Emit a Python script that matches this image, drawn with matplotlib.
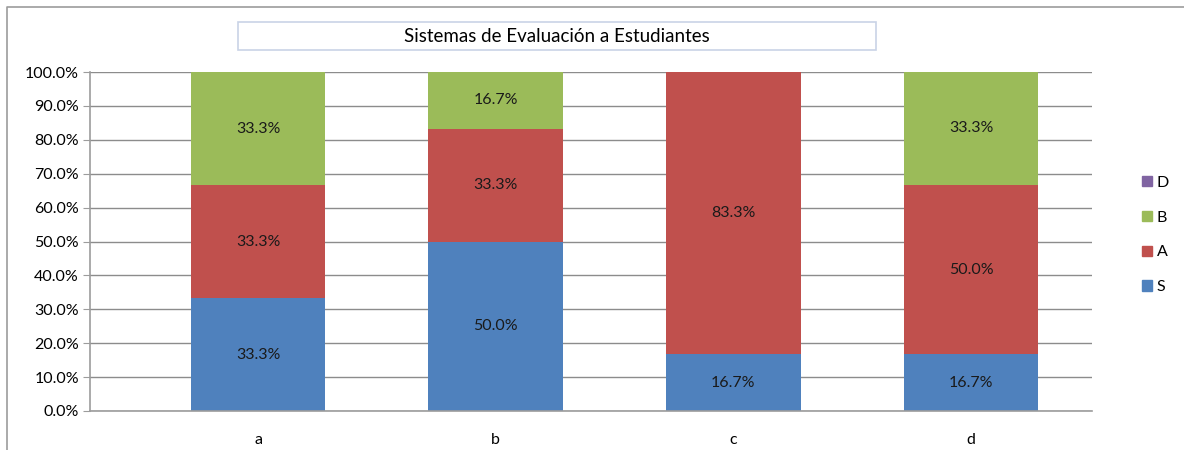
import matplotlib
matplotlib.use("Agg")
import matplotlib.pyplot as plt
from matplotlib.patches import Rectangle, Patch
from matplotlib.lines import Line2D
import numpy as np

plt.rcParams['font.family'] = ['Lato', 'DejaVu Sans']

categories = ["a", "b", "c", "d"]
S = [33.3, 50.0, 16.7, 16.7]
A = [33.3, 33.3, 83.3, 50.0]
B = [33.3, 16.7, 0.0, 33.3]
D = [0.0, 0.0, 0.0, 0.0]

series = [("S", S, "#4F81BD"), ("A", A, "#C0504D"),
          ("B", B, "#9BBB59"), ("D", D, "#8064A2")]

W, H = 1184, 450
fig = plt.figure(figsize=(W / 100, H / 100), dpi=100)
ax = fig.add_axes([90 / W, 1 - 411 / H, (1092 - 90) / W, (411 - 72) / H])

x = np.arange(len(categories))
bottom = np.zeros(len(categories))
for name, vals, col in series:
    vals = np.array(vals)
    ax.bar(x, vals, 0.566, bottom=bottom, color=col, zorder=2)
    for xi, b, v in zip(x, bottom, vals):
        if v > 0:
            ax.text(xi, b + v / 2, f"{v:.1f}%", ha="center", va="center",
                    fontsize=11.5, color="#1a1a1a", zorder=3)
    bottom += vals

ax.set_xlim(-0.707, 3.509)
ax.set_ylim(0, 100)
ax.set_yticks(np.arange(0, 101, 10))
ax.set_yticklabels([f"{v:.1f}%" for v in range(0, 101, 10)])
ax.set_xticks(x)
ax.set_xticklabels(categories)
ax.yaxis.grid(True, color="#8C8C8C", linewidth=1, zorder=0)
ax.set_axisbelow(True)
for side in ["top", "right"]:
    ax.spines[side].set_visible(False)
for side in ["left", "bottom"]:
    ax.spines[side].set_color("#9C9C9C")
    ax.spines[side].set_linewidth(1.2)
ax.tick_params(axis="y", length=5, color="#9C9C9C", labelsize=11.5, pad=3)
ax.tick_params(axis="x", length=0, labelsize=11.5, pad=16)

# legend
handles = [Patch(color=col, label=name) for name, vals, col in series[::-1]]
fig.legend(handles=handles, loc="center left",
           bbox_to_anchor=(1128 / W, 1 - 235 / H), frameon=False,
           handlelength=0.6, handleheight=0.6, handletextpad=0.3,
           labelspacing=1.3, fontsize=11.5)

# title box
fig.patches.append(Rectangle((238 / W, 1 - 50 / H), (876 - 238) / W, 28 / H,
                             transform=fig.transFigure, facecolor="white",
                             edgecolor="#C9D3E6", linewidth=1.2))
fig.text(557 / W, 1 - 37 / H, "Sistemas de Evaluación a Estudiantes",
         ha="center", va="center", fontsize=13.5)

# outer frame
fig.lines.append(Line2D([7 / W, 7 / W, 1.0], [0.0, 1 - 7 / H, 1 - 7 / H],
                        transform=fig.transFigure, color="#9C9C9C", linewidth=1.2))

fig.savefig("out.png", dpi=100)
